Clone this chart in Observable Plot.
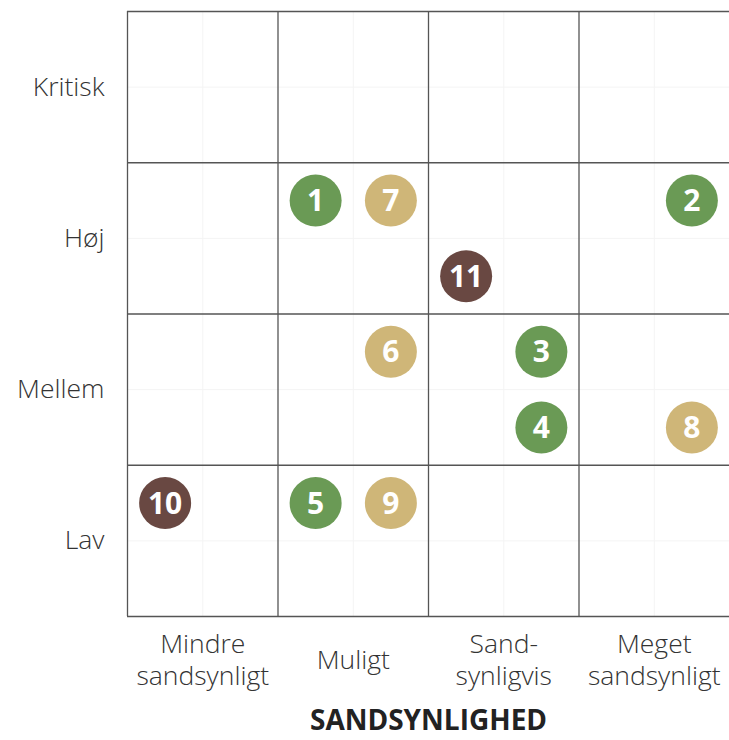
<!DOCTYPE html>
<html>
<head>
<meta charset="utf-8">
<script src="https://cdn.jsdelivr.net/npm/d3@7"></script>
<script src="https://cdn.jsdelivr.net/npm/@observablehq/plot@0.6"></script>
<style>
  html, body { margin: 0; padding: 0; background: #fff; }
  #chart svg { display: block; }
</style>
</head>
<body>
<div id="chart"></div>
<script>
// Risk items: number, likelihood position (0-4), impact position (0-4), group
const ids      = [1, 2, 3, 4, 5, 6, 7, 8, 9, 10, 11];
const likelih  = [1.25, 3.75, 2.75, 2.75, 1.25, 1.75, 1.75, 3.75, 1.75, 0.25, 2.25];
const impact   = [2.75, 2.75, 1.75, 1.25, 0.75, 1.75, 2.75, 1.25, 0.75, 0.75, 2.25];
const groups   = ["g", "g", "g", "g", "g", "t", "t", "t", "t", "b", "b"];

const xLabels = ["Mindre\nsandsynligt", "Muligt", "Sand-\nsynligvis", "Meget\nsandsynligt"];
const yLabels = ["Lav", "Mellem", "Høj", "Kritisk"];
const groupColors = {g: "#6a9a55", t: "#cfb678", b: "#694842"};

const items = ids.map((id, i) => ({id, x: likelih[i], y: impact[i], g: groups[i]}));
const centers = [0.5, 1.5, 2.5, 3.5];
const majors = [0, 1, 2, 3];
const halves = [0.5, 1.5, 2.5, 3.5];

const font = "'Open Sans', sans-serif";

const chart = Plot.plot({
  width: 729,
  height: 740,
  marginLeft: 127,
  marginRight: 0,
  marginTop: 11,
  marginBottom: 124,
  style: {fontFamily: font, background: "#fff", color: "#333"},
  x: {domain: [0, 4], axis: null},
  y: {domain: [0, 4], axis: null},
  marks: [
    // faint half-cell lines
    Plot.ruleX(halves, {stroke: "#f4f4f4", strokeWidth: 1}),
    Plot.ruleY(halves, {stroke: "#f4f4f4", strokeWidth: 1}),
    // main grid
    Plot.ruleX(majors, {stroke: "#555", strokeWidth: 1.3}),
    Plot.ruleY([0, 1, 2, 3, 4], {stroke: "#555", strokeWidth: 1.3}),
    Plot.axisY({
      ticks: centers,
      tickFormat: (d) => yLabels[Math.floor(d)],
      tickSize: 0,
      tickPadding: 23,
      fontSize: 26.5,
      fontWeight: 300,
      fill: "#333",
      label: null
    }),
    Plot.axisX({
      ticks: centers,
      tickFormat: (d) => xLabels[Math.floor(d)],
      tickSize: 0,
      tickPadding: 42,
      lineAnchor: "middle",
      lineHeight: 1.21,
      fontSize: 26.5,
      fontWeight: 300,
      fill: "#333",
      label: null
    }),
    Plot.text(["SANDSYNLIGHED"], {
      frameAnchor: "bottom",
      dy: 113,
      fontSize: 28,
      fontWeight: "bold",
      fill: "#222"
    }),
    Plot.dot(items, {x: "x", y: "y", r: 26, fill: (d) => groupColors[d.g], stroke: null}),
    Plot.text(items, {
      x: "x", y: "y", text: (d) => String(d.id),
      fill: "white", fontSize: 30, fontWeight: "bold", dy: 1
    })
  ]
});
document.getElementById("chart").append(chart);
</script>
</body>
</html>
